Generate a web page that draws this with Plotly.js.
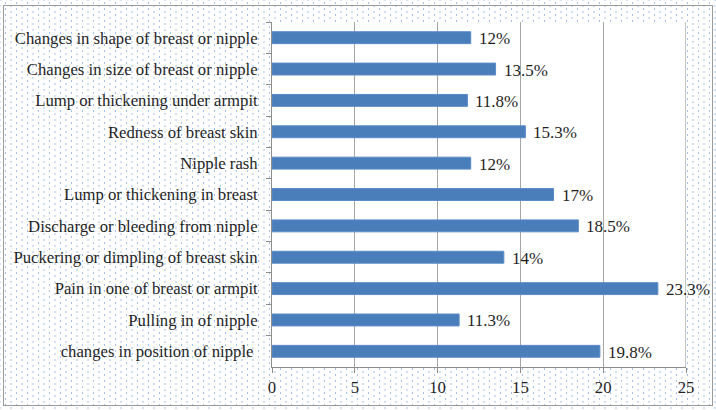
<!DOCTYPE html>
<html>
<head>
<meta charset="utf-8">
<script src="https://cdn.plot.ly/plotly-3.0.1.min.js"></script>
<style>
	body { margin: 0; }
	#wrap { position: relative; width: 716px; height: 410px; }
	#chart {
		width: 716px; height: 410px;
		background-color: #fff;
		background-image:
			radial-gradient(circle, #a6c0e8 0.5px, transparent 1px),
			radial-gradient(circle, #a6c0e8 0.5px, transparent 1px);
		background-size: 11px 6px, 11px 6px;
		background-position: 0 0, 5.5px 3px;
	}
	#frame {
		position: absolute; left: 3px; top: 5px; right: 3px; bottom: 4px;
		border: 1px solid #9a9a9a; pointer-events: none;
	}
</style>
</head>
<body>
<div id="wrap">
	<div id="chart"></div>
	<div id="frame"></div>
</div>
<script>
// top to bottom, as in the picture
const symptoms = [
	"Changes in shape of breast or nipple",
	"Changes in size of breast or nipple",
	"Lump or thickening under armpit",
	"Redness of breast skin",
	"Nipple rash",
	"Lump or thickening in breast",
	"Discharge or bleeding from nipple",
	"Puckering or dimpling of breast skin",
	"Pain in one of breast or armpit",
	"Pulling in of nipple",
	"changes in position of nipple "
];
const percents = [12, 13.5, 11.8, 15.3, 12, 17, 18.5, 14, 23.3, 11.3, 19.8];
const xTicks = [0, 5, 10, 15, 20, 25];

const serif = "Liberation Serif";
const txt = "#1f1f1f";

let traces = [
	{
		type: "bar",
		orientation: "h",
		x: percents,
		y: symptoms,
		width: 0.38,
		marker: {
			color: "#4a7ebb",
			line: { color: "#5b8cc8", width: 1 }
		},
		hoverinfo: "none"
	}
];

let labels = percents.map((v, i) => ({
	x: v,
	y: symptoms[i],
	text: v + "%",
	showarrow: false,
	xanchor: "left",
	xshift: 6,
	yshift: -1,
	font: { family: serif, size: 17, color: txt }
}));

let layout = {
	width: 716,
	height: 410,
	margin: { l: 272, r: 30, t: 22, b: 43 },
	paper_bgcolor: "rgba(0,0,0,0)",
	plot_bgcolor: "#ffffff",
	font: { family: serif, size: 16.7, color: txt },
	showlegend: false,
	xaxis: {
		range: [0, 25],
		tickvals: xTicks,
		ticktext: xTicks.map(String),
		showgrid: true,
		gridcolor: "#a6a6a6",
		gridwidth: 1.3,
		zeroline: false,
		showline: true,
		linecolor: "#8c8c8c",
		ticks: "outside",
		ticklen: 5,
		tickcolor: "#8c8c8c",
		tickfont: { family: serif, size: 16.7, color: txt },
		fixedrange: true
	},
	yaxis: {
		type: "category",
		autorange: "reversed",
		showgrid: false,
		showline: true,
		linecolor: "#8c8c8c",
		ticks: "outside",
		tickson: "boundaries",
		ticklen: 5,
		tickcolor: "#8c8c8c",
		ticklabelstandoff: 10,
		tickfont: { family: serif, size: 16.7, color: txt },
		fixedrange: true
	},
	annotations: labels,
	shapes: [
		{
			type: "line", xref: "x", yref: "paper",
			x0: 25, x1: 25, y0: 0, y1: 1,
			line: { color: "#a6a6a6", width: 1.3 }
		}
	]
};

Plotly.newPlot("chart", traces, layout, { displayModeBar: false, staticPlot: true });
</script>
</body>
</html>
